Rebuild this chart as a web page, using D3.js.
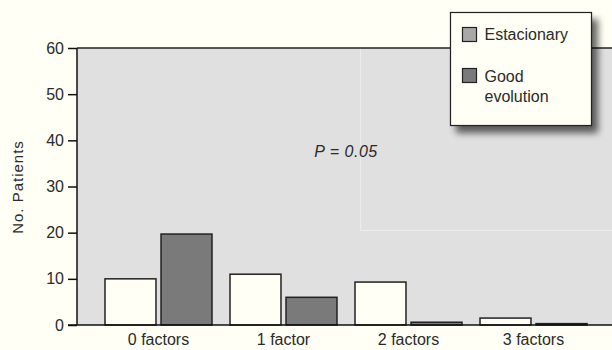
<!DOCTYPE html>
<html><head><meta charset="utf-8">
<script src="https://cdn.jsdelivr.net/npm/d3@7"></script>
<style>
html,body{margin:0;padding:0;background:#fffff5;}
svg{display:block;font-family:"Liberation Sans","DejaVu Sans",sans-serif;}
</style></head>
<body><svg id="c" width="612" height="350"></svg>
<script>
const categories = ["0 factors", "1 factor", "2 factors", "3 factors"];
const seriesNames = ["Estacionary", "Good evolution"];
const estacionary = [10, 11, 9.3, 1.5];
const goodEvolution = [19.7, 6, 0.6, 0.3];
const yTicks = [0, 10, 20, 30, 40, 50, 60];
const annotation = "P = 0.05";

(function () {
const svg = d3.select("#c");
const W = 612, H = 350;
const pLeft = 77, pRight = 612, pTop = 48, pBottom = 325;
const FONT = "Liberation Sans, sans-serif";
const TXT = "#2a2a2a";

svg.append("rect").attr("width", W).attr("height", H).attr("fill", "#fffff5");

const y = d3.scaleLinear().domain([0, 60]).range([pBottom, pTop]);
const x0 = d3.scaleBand().domain(categories).range([96, 596]);
const x1 = d3.scaleBand().domain(seriesNames).range([9, 116]).paddingInner(0.09);

// plot background
svg.append("rect").attr("x", pLeft).attr("y", pTop).attr("width", pRight - pLeft).attr("height", pBottom - pTop).attr("fill", "#e0e0e0");
// faint inner lines
svg.append("path").attr("d", `M360.5,${pTop}V230.5H${pRight}`).attr("fill", "none").attr("stroke", "#ececec").attr("stroke-width", 1);
// top border
svg.append("line").attr("x1", pLeft).attr("x2", pRight).attr("y1", pTop).attr("y2", pTop).attr("stroke", "#222").attr("stroke-width", 1.5);

// y axis
const yAxis = d3.axisLeft(y).tickValues(yTicks).tickSize(9).tickPadding(4).tickFormat(d3.format("d"));
const ga = svg.append("g").attr("transform", `translate(${pLeft},0)`).call(yAxis);
ga.attr("font-size", 16).attr("font-family", FONT);
ga.select(".domain").attr("stroke", "#111").attr("stroke-width", 1.5).attr("d", `M0,${pTop}V${pBottom}`);
ga.selectAll(".tick line").attr("stroke", "#111").attr("stroke-width", 1.5);
ga.selectAll(".tick text").attr("fill", TXT);

// bars
const data = categories.map((c, i) => ({ c, vals: [estacionary[i], goodEvolution[i]] }));
const fills = ["#fffff5", "#7a7a7a"];
const groups = svg.append("g").selectAll("g").data(data).join("g")
  .attr("transform", d => `translate(${x0(d.c)},0)`);
groups.selectAll("rect").data(d => d.vals.map((v, k) => ({ v, k })))
  .join("rect")
  .attr("x", d => x1(seriesNames[d.k]))
  .attr("width", x1.bandwidth())
  .attr("y", d => y(d.v))
  .attr("height", d => y(0) - y(d.v))
  .attr("fill", d => fills[d.k])
  .attr("stroke", "#222").attr("stroke-width", 1.5);

// x axis
const xAxis = d3.axisBottom(x0).tickSize(0).tickPadding(9);
const gx = svg.append("g").attr("transform", `translate(0,${pBottom})`).call(xAxis);
gx.attr("font-size", 16).attr("font-family", FONT);
gx.select(".domain").attr("d", `M68,0H${pRight}`).attr("stroke", "#111").attr("stroke-width", 1.5);
gx.selectAll(".tick text").attr("fill", TXT);

// y label
svg.append("text").attr("transform", "translate(23,187) rotate(-90)").attr("text-anchor", "middle")
  .attr("font-size", 15).attr("letter-spacing", 1).attr("fill", TXT).text("No. Patients");

// annotation
svg.append("text").attr("x", 346).attr("y", 157).attr("text-anchor", "middle")
  .attr("font-size", 16).attr("letter-spacing", 0.5).attr("font-style", "italic").attr("fill", TXT).text(annotation);

// legend
const defs = svg.append("defs");
const f = defs.append("filter").attr("id", "sh").attr("x", "-20%").attr("y", "-20%").attr("width", "150%").attr("height", "150%");
f.append("feGaussianBlur").attr("in", "SourceAlpha").attr("stdDeviation", 3.5);
f.append("feOffset").attr("dx", 6).attr("dy", 7).attr("result", "b");
f.append("feComponentTransfer").append("feFuncA").attr("type", "linear").attr("slope", 0.6);
const fm = f.append("feMerge");
fm.append("feMergeNode");
fm.append("feMergeNode").attr("in", "SourceGraphic");

const lg = svg.append("g").attr("transform", "translate(450.5,12.5)");
lg.append("rect").attr("width", 141).attr("height", 113).attr("fill", "#fffff5").attr("stroke", "#222").attr("stroke-width", 1.2).attr("filter", "url(#sh)");
const swatch = ["#a8a8a8", "#7a7a7a"];
const ly = [15, 56];
seriesNames.forEach((s, i) => {
  lg.append("rect").attr("x", 12).attr("y", ly[i]).attr("width", 14).attr("height", 14)
    .attr("fill", swatch[i]).attr("stroke", "#222").attr("stroke-width", 1.2);
});
lg.append("text").attr("x", 34).attr("y", 27).attr("font-size", 16).attr("fill", TXT).text("Estacionary");
const t2 = lg.append("text").attr("x", 34).attr("y", 69.5).attr("font-size", 16).attr("fill", TXT);
t2.append("tspan").attr("x", 34).text("Good");
t2.append("tspan").attr("x", 34).attr("dy", 20).text("evolution");
})();
</script></body></html>
